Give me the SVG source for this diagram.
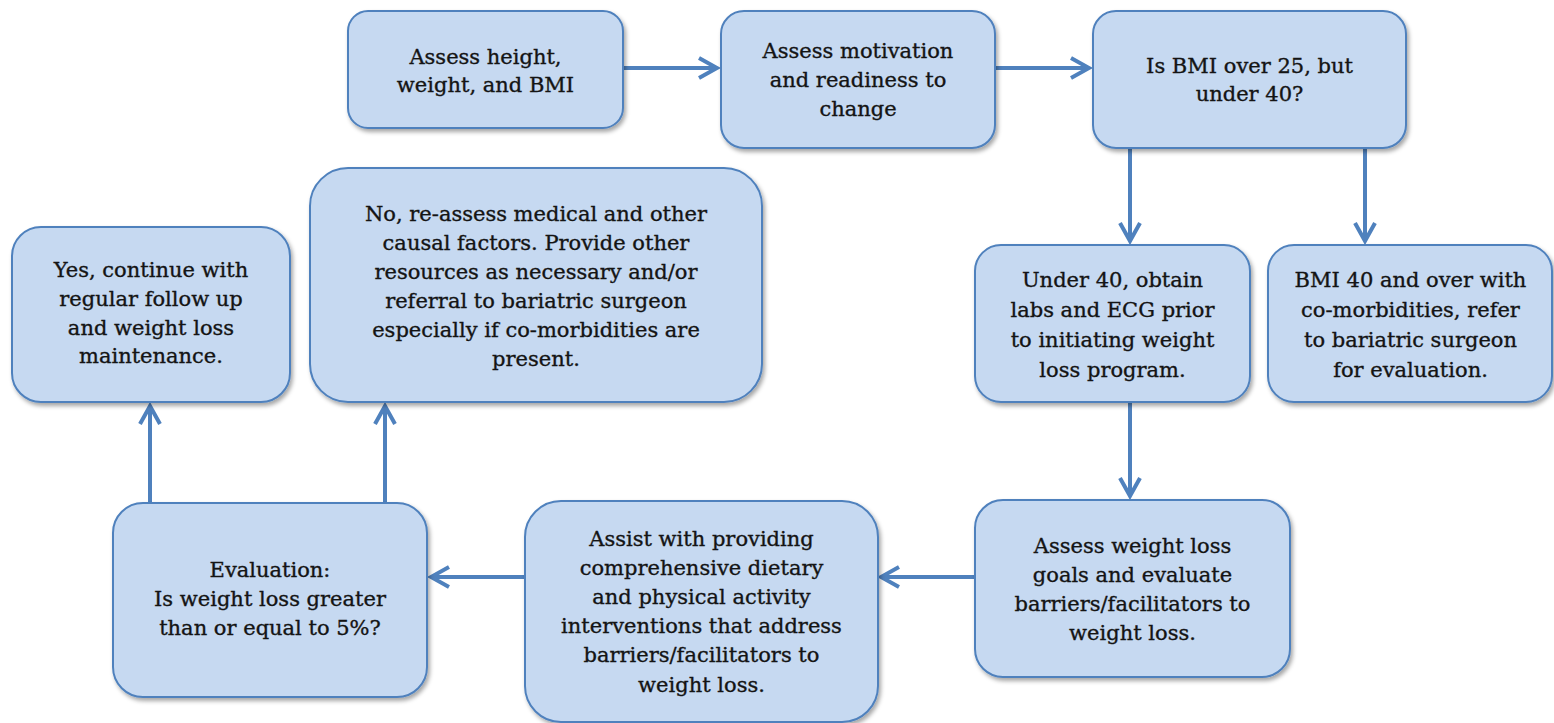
<svg xmlns="http://www.w3.org/2000/svg" width="1554" height="723" viewBox="0 0 1554 723">
<defs>
<filter id="sh" x="-10%" y="-10%" width="125%" height="130%">
<feDropShadow dx="2" dy="3" stdDeviation="2" flood-color="#000" flood-opacity="0.35"/>
</filter>
<marker id="ah" markerUnits="userSpaceOnUse" markerWidth="26" markerHeight="26" viewBox="0 0 26 26" refX="22" refY="13" orient="auto">
<path d="M4,3 L22,13 L4,23" fill="none" stroke="#4F81BD" stroke-width="4" stroke-linejoin="miter"/>
</marker>
<style>
.box{fill:#C6D9F1;stroke:#4F81BD;stroke-width:2;filter:url(#sh)}
.t{font-family:"DejaVu Serif","Liberation Serif",serif;font-size:21px;fill:#141414;stroke:#141414;stroke-width:0.35;text-anchor:middle}
.c{stroke:#4F81BD;stroke-width:4;fill:none;marker-end:url(#ah)}
</style>
</defs>
<rect width="1554" height="723" fill="#fff"/>
<g id="connectors">
<line class="c" x1="623" y1="68" x2="717" y2="68"/>
<line class="c" x1="995" y1="68" x2="1089" y2="68"/>
<line class="c" x1="1130" y1="148" x2="1130" y2="241"/>
<line class="c" x1="1365" y1="148" x2="1365" y2="241"/>
<line class="c" x1="1130" y1="402" x2="1130" y2="496"/>
<line class="c" x1="975" y1="577" x2="881" y2="577"/>
<line class="c" x1="525" y1="577" x2="431" y2="577"/>
<line class="c" x1="150" y1="503" x2="150" y2="406"/>
<line class="c" x1="385" y1="503" x2="385" y2="406"/>
</g>
<g id="n1">
<rect class="box" x="348" y="11" width="275" height="117" rx="20"/>
<text class="t" x="485.5" y="64">Assess height,</text>
<text class="t" x="485.5" y="92">weight, and BMI</text>
</g>
<g id="n2">
<rect class="box" x="721" y="11" width="274" height="137" rx="23"/>
<text class="t" x="858" y="58">Assess motivation</text>
<text class="t" x="858" y="87">and readiness to</text>
<text class="t" x="858" y="116">change</text>
</g>
<g id="n3">
<rect class="box" x="1093" y="11" width="313" height="137" rx="23"/>
<text class="t" x="1249.5" y="73">Is BMI over 25, but</text>
<text class="t" x="1249.5" y="101">under 40?</text>
</g>
<g id="n4">
<rect class="box" x="975" y="245" width="275" height="157" rx="26"/>
<text class="t" x="1112.5" y="287">Under 40, obtain</text>
<text class="t" x="1112.5" y="317">labs and ECG prior</text>
<text class="t" x="1112.5" y="347">to initiating weight</text>
<text class="t" x="1112.5" y="377">loss program.</text>
</g>
<g id="n5">
<rect class="box" x="1268" y="245" width="284" height="157" rx="26"/>
<text class="t" x="1410.5" y="287">BMI 40 and over with</text>
<text class="t" x="1410.5" y="317">co-morbidities, refer</text>
<text class="t" x="1410.5" y="347">to bariatric surgeon</text>
<text class="t" x="1410.5" y="377">for evaluation.</text>
</g>
<g id="n6">
<rect class="box" x="975" y="500" width="315" height="177" rx="28"/>
<text class="t" x="1132.5" y="553">Assess weight loss</text>
<text class="t" x="1132.5" y="582">goals and evaluate</text>
<text class="t" x="1132.5" y="611">barriers/facilitators to</text>
<text class="t" x="1132.5" y="640">weight loss.</text>
</g>
<g id="n7">
<rect class="box" x="525" y="501" width="353" height="221" rx="36"/>
<text class="t" x="701.5" y="546">Assist with providing</text>
<text class="t" x="701.5" y="575">comprehensive dietary</text>
<text class="t" x="701.5" y="604">and physical activity</text>
<text class="t" x="701.5" y="633">interventions that address</text>
<text class="t" x="701.5" y="662">barriers/facilitators to</text>
<text class="t" x="701.5" y="692">weight loss.</text>
</g>
<g id="n8">
<rect class="box" x="113" y="503" width="314" height="194" rx="30"/>
<text class="t" x="270" y="577">Evaluation:</text>
<text class="t" x="270" y="606">Is weight loss greater</text>
<text class="t" x="270" y="635">than or equal to 5%?</text>
</g>
<g id="n9">
<rect class="box" x="12" y="227" width="278" height="175" rx="29"/>
<text class="t" x="151" y="277">Yes, continue with</text>
<text class="t" x="151" y="306">regular follow up</text>
<text class="t" x="151" y="335">and weight loss</text>
<text class="t" x="151" y="363">maintenance.</text>
</g>
<g id="n10">
<rect class="box" x="310" y="168" width="452" height="234" rx="38"/>
<text class="t" x="536" y="221">No, re-assess medical and other</text>
<text class="t" x="536" y="250">causal factors. Provide other</text>
<text class="t" x="536" y="279">resources as necessary and/or</text>
<text class="t" x="536" y="308">referral to bariatric surgeon</text>
<text class="t" x="536" y="337">especially if co-morbidities are</text>
<text class="t" x="536" y="366">present.</text>
</g>
</svg>
